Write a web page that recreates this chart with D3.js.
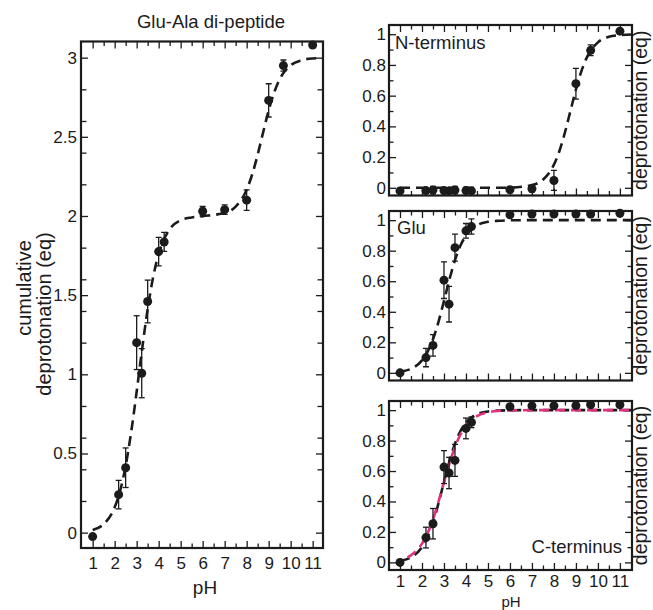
<!DOCTYPE html>
<html>
<head>
<meta charset="utf-8">
<script src="https://cdn.jsdelivr.net/npm/d3@7"></script>
<style>
  html, body { margin: 0; padding: 0; background: #fff; }
  svg { display: block; }
</style>
</head>
<body>
<script>
// ---------------- data ----------------
const phValues = [1, 2.18, 2.5, 3, 3.23, 3.5, 4, 4.25, 6, 7, 8, 9, 9.67, 11];

const totalValues = [-0.025, 0.24, 0.41, 1.20, 1.007, 1.46, 1.775, 1.836, 2.03, 2.04, 2.10, 2.73, 2.95, 3.08];
const totalErrors = [0.01, 0.09, 0.125, 0.17, 0.155, 0.135, 0.09, 0.06, 0.03, 0.03, 0.065, 0.105, 0.035, 0.01];

const nTermValues = [-0.02, -0.018, -0.015, -0.018, -0.02, -0.015, -0.018, -0.02, -0.012, -0.006, 0.048, 0.678, 0.895, 1.02];
const nTermErrors = [0.008, 0.015, 0.025, 0.02, 0.015, 0.025, 0.02, 0.01, 0.02, 0.02, 0.065, 0.1, 0.035, 0.005];

const gluValues = [0.0, 0.10, 0.18, 0.607, 0.45, 0.82, 0.93, 0.958, 1.035, 1.04, 1.04, 1.04, 1.04, 1.045];
const gluErrors = [0.005, 0.06, 0.07, 0.12, 0.117, 0.088, 0.048, 0.05, 0.01, 0.01, 0.01, 0.01, 0.01, 0.01];

const cTermValues = [0.0, 0.163, 0.254, 0.626, 0.587, 0.67, 0.88, 0.92, 1.022, 1.028, 1.028, 1.03, 1.035, 1.035];
const cTermErrors = [0.005, 0.068, 0.1, 0.108, 0.103, 0.105, 0.068, 0.035, 0.01, 0.01, 0.01, 0.01, 0.01, 0.01];

// dashed fit curves
const fitPH    = [1, 1.5, 2, 2.25, 2.5, 2.75, 3, 3.25, 3.5, 3.75, 4, 4.5, 5, 5.5, 6, 7, 7.5, 8, 8.25, 8.5, 8.75, 9, 9.25, 9.5, 10, 10.5, 11, 11.5];
const fitTotal = [0.017, 0.054, 0.16, 0.265, 0.422, 0.635, 0.89, 1.162, 1.412, 1.614, 1.76, 1.916, 1.973, 1.991, 1.999, 2.02, 2.059, 2.166, 2.262, 2.387, 2.529, 2.666, 2.78, 2.863, 2.952, 2.984, 2.995, 2.998];
const fitNTerm = [0, 0, 0, 0, 0, 0, 0, 0, 0, 0, 0, 0, 0, 0, 0.001, 0.018, 0.053, 0.151, 0.24, 0.36, 0.5, 0.64, 0.76, 0.849, 0.947, 0.983, 0.994, 0.998];
const fitGlu   = [0.009, 0.027, 0.082, 0.137, 0.22, 0.334, 0.471, 0.613, 0.738, 0.834, 0.899, 0.966, 0.989, 0.996, 0.999, 1, 1, 1, 1, 1, 1, 1, 1, 1, 1, 1, 1, 1];
const fitCTerm = [0.011, 0.034, 0.101, 0.166, 0.262, 0.387, 0.529, 0.666, 0.78, 0.863, 0.918, 0.973, 0.991, 0.997, 0.999, 1, 1, 1, 1, 1, 1, 1, 1, 1, 1, 1, 1, 1];
const fitCTermAlt = [0.017, 0.047, 0.123, 0.19, 0.282, 0.398, 0.526, 0.651, 0.758, 0.84, 0.898, 0.961, 0.986, 0.995, 0.998, 1, 1, 1, 1, 1, 1, 1, 1, 1, 1, 1, 1, 1];

// ticks
const xMajorTicks = [1, 2, 3, 4, 5, 6, 7, 8, 9, 10, 11];
const xMinorTicks = [1.5, 2.5, 3.5, 4.5, 5.5, 6.5, 7.5, 8.5, 9.5, 10.5];
const leftYMajorTicks = [0, 0.5, 1, 1.5, 2, 2.5, 3];
const leftYMinorTicks = [0.2, 0.4, 0.6, 0.8, 1.2, 1.4, 1.6, 1.8, 2.2, 2.4, 2.6, 2.8];
const rightYMajorTicks = [0, 0.2, 0.4, 0.6, 0.8, 1];
const rightYMinorTicks = [0.1, 0.3, 0.5, 0.7, 0.9];

// text
const titleText = "Glu-Ala di-peptide";
const leftYLabel = ["cumulative", "deprotonation (eq)"];
const rightYLabel = "deprotonation (eq)";
const xLabel = "pH";
const panelNames = ["N-terminus", "Glu", "C-terminus"];

// ---------------- drawing ----------------
const W = 653, H = 610;
const FONT = "'Liberation Sans', Arial, Helvetica, sans-serif";
const INK = "#1b1b1b";
const PINK = "#e0307e";

const svg = d3.select("body").append("svg")
  .attr("width", W).attr("height", H)
  .attr("viewBox", `0 0 ${W} ${H}`)
  .style("font-family", FONT);

const fmt = d => String(d);
let clipId = 0;

function drawPanel(o) {
  const x = d3.scaleLinear().domain(o.xDomain).range([o.x0, o.x1]);
  const y = d3.scaleLinear().domain(o.yDomain).range([o.y1, o.y0]);
  const g = svg.append("g");

  const strip = s => s.call(a => a.select(".domain").remove())
    .call(a => a.selectAll(".tick line").attr("stroke", INK).attr("stroke-width", 1.3))
    .call(a => a.selectAll(".tick text").attr("fill", INK).style("font-family", FONT).style("font-size", o.tickFont + "px"));

  // bottom
  g.append("g").attr("transform", `translate(0,${o.y1})`)
    .call(d3.axisBottom(x).tickValues(xMajorTicks).tickSize(-7).tickPadding(o.xPad)
      .tickFormat(o.showX ? fmt : () => ""))
    .call(strip);
  g.append("g").attr("transform", `translate(0,${o.y1})`)
    .call(d3.axisBottom(x).tickValues(xMinorTicks).tickSize(-4.5).tickFormat(() => ""))
    .call(strip);
  // top
  g.append("g").attr("transform", `translate(0,${o.y0})`)
    .call(d3.axisTop(x).tickValues(xMajorTicks).tickSize(-7).tickFormat(() => ""))
    .call(strip);
  g.append("g").attr("transform", `translate(0,${o.y0})`)
    .call(d3.axisTop(x).tickValues(xMinorTicks).tickSize(-4.5).tickFormat(() => ""))
    .call(strip);
  // left
  g.append("g").attr("transform", `translate(${o.x0},0)`)
    .call(d3.axisLeft(y).tickValues(o.yMajor).tickSize(-7).tickPadding(o.yPad).tickFormat(fmt))
    .call(strip);
  g.append("g").attr("transform", `translate(${o.x0},0)`)
    .call(d3.axisLeft(y).tickValues(o.yMinor).tickSize(-o.minorY).tickFormat(() => ""))
    .call(strip);
  // right
  g.append("g").attr("transform", `translate(${o.x1},0)`)
    .call(d3.axisRight(y).tickValues(o.yMajor).tickSize(-7).tickFormat(() => ""))
    .call(strip);
  g.append("g").attr("transform", `translate(${o.x1},0)`)
    .call(d3.axisRight(y).tickValues(o.yMinor).tickSize(-o.minorY).tickFormat(() => ""))
    .call(strip);

  // clip
  const id = "clip" + (clipId++);
  svg.append("clipPath").attr("id", id).append("rect")
    .attr("x", o.x0).attr("y", o.y0).attr("width", o.x1 - o.x0).attr("height", o.y1 - o.y0);
  const inner = g.append("g").attr("clip-path", `url(#${id})`);

  const line = d3.line().x(d => x(d[0])).y(d => y(d[1])).curve(d3.curveMonotoneX);
  o.fits.forEach(f => {
    inner.append("path")
      .datum(fitPH.map((p, i) => [p, f.values[i]]))
      .attr("d", line)
      .attr("fill", "none")
      .attr("stroke", f.color)
      .attr("stroke-width", 2.6)
      .attr("stroke-dasharray", "10,6")
      .attr("stroke-dashoffset", f.offset || 0);
  });

  // error bars
  const pts = phValues.map((p, i) => ({ p, v: o.values[i], e: o.errors[i] }));
  const eb = inner.append("g").attr("stroke", INK).attr("stroke-width", 1.3);
  pts.forEach(d => {
    const ya = y(d.v - d.e), yb = y(d.v + d.e), xc = x(d.p);
    eb.append("line").attr("x1", xc).attr("x2", xc).attr("y1", ya).attr("y2", yb);
    eb.append("line").attr("x1", xc - 3).attr("x2", xc + 3).attr("y1", ya).attr("y2", ya);
    eb.append("line").attr("x1", xc - 3).attr("x2", xc + 3).attr("y1", yb).attr("y2", yb);
  });
  g.append("g").selectAll("circle").data(pts).join("circle")
    .attr("cx", d => x(d.p)).attr("cy", d => y(d.v)).attr("r", 4.5)
    .attr("fill", INK);

  // frame
  g.append("rect")
    .attr("x", o.x0).attr("y", o.y0).attr("width", o.x1 - o.x0).attr("height", o.y1 - o.y0)
    .attr("fill", "none").attr("stroke", INK).attr("stroke-width", 2.2);

  return { x, y, g };
}

// left panel
drawPanel({
  x0: 81, x1: 323, y0: 41.5, y1: 548,
  xDomain: [0.47, 11.47], yDomain: [-0.097, 3.102],
  yMajor: leftYMajorTicks, yMinor: leftYMinorTicks, minorY: 5.5,
  showX: true, xPad: 9, yPad: 4, tickFont: 17,
  values: totalValues, errors: totalErrors,
  fits: [{ values: fitTotal, color: INK }]
});

// right panels
const rightLayout = [
  { y0: 25, y1: 195.5, values: nTermValues, errors: nTermErrors, fits: [{ values: fitNTerm, color: INK }] },
  { y0: 211, y1: 380.5, values: gluValues, errors: gluErrors, fits: [{ values: fitGlu, color: INK }] },
  { y0: 401, y1: 570, values: cTermValues, errors: cTermErrors,
    fits: [{ values: fitCTerm, color: INK }, { values: fitCTermAlt, color: PINK, offset: 8 }] }
];
rightLayout.forEach((r, i) => {
  drawPanel(Object.assign({
    x0: 389, x1: 632,
    xDomain: [0.5, 11.55], yDomain: [-0.05, 1.06],
    yMajor: rightYMajorTicks, yMinor: rightYMinorTicks, minorY: 4.5,
    showX: i === 2, xPad: 5, yPad: 3, tickFont: 17
  }, r));
  svg.append("text")
    .attr("transform", `translate(647,${(r.y0 + r.y1) / 2}) rotate(-90)`)
    .attr("text-anchor", "middle").attr("fill", INK)
    .style("font-size", "19.5px").text(rightYLabel);
});

// panel names
svg.append("text").attr("x", 395).attr("y", 48.5).attr("fill", INK).style("font-size", "18.5px").text(panelNames[0]);
svg.append("text").attr("x", 397).attr("y", 234).attr("fill", INK).style("font-size", "18.5px").text(panelNames[1]);
svg.append("text").attr("x", 622).attr("y", 553).attr("text-anchor", "end").attr("fill", INK).style("font-size", "18.5px").text(panelNames[2]);

// title and left labels
svg.append("text").attr("x", 211).attr("y", 28).attr("text-anchor", "middle").attr("fill", INK)
  .style("font-size", "18.5px").text(titleText);
svg.append("text").attr("transform", "translate(31,288) rotate(-90)").attr("text-anchor", "middle")
  .attr("fill", INK).style("font-size", "20px").text(leftYLabel[0]);
svg.append("text").attr("transform", "translate(51,314) rotate(-90)").attr("text-anchor", "middle")
  .attr("fill", INK).style("font-size", "20px").text(leftYLabel[1]);

// x labels
svg.append("text").attr("x", 205).attr("y", 594).attr("text-anchor", "middle").attr("fill", INK)
  .style("font-size", "19px").text(xLabel);
svg.append("text").attr("x", 511).attr("y", 606.5).attr("text-anchor", "middle").attr("fill", INK)
  .style("font-size", "15px").text(xLabel);
</script>
</body>
</html>
